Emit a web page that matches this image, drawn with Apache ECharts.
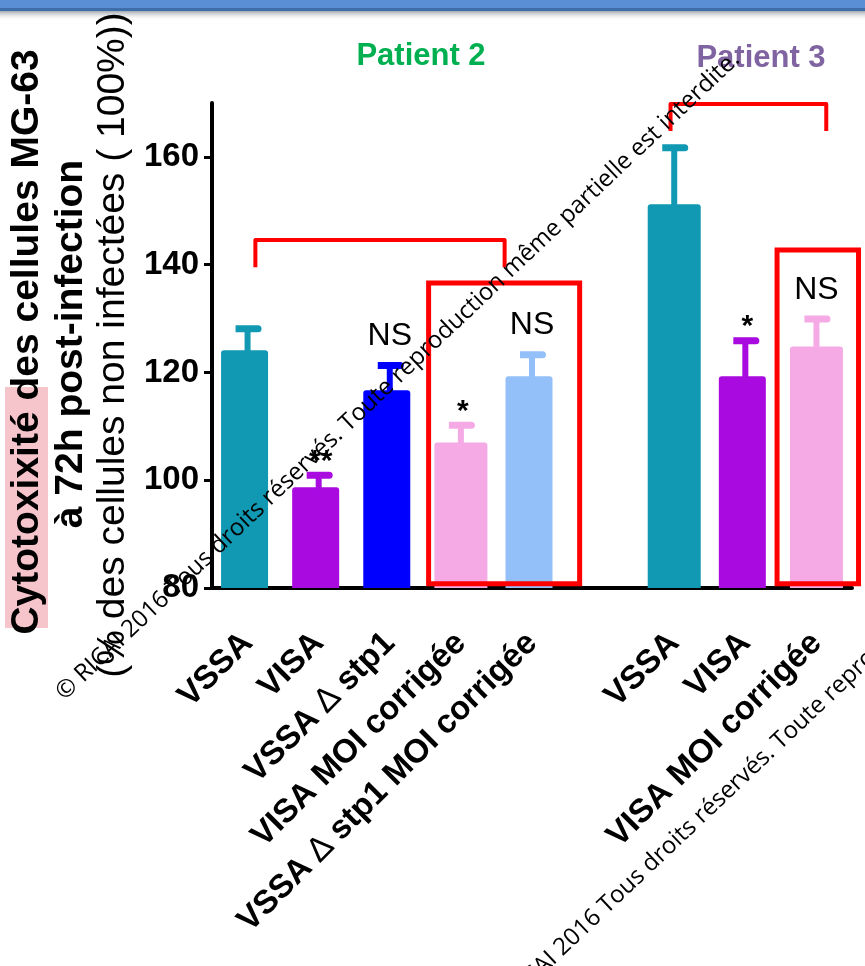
<!DOCTYPE html>
<html>
<head>
<meta charset="utf-8">
<title>Cytotoxicité MG-63</title>
<script src="https://cdn.jsdelivr.net/npm/echarts@6/dist/echarts.min.js"></script>
<style>
  html, body { margin: 0; padding: 0; background: #ffffff; }
  #chart { width: 865px; height: 966px; }
</style>
</head>
<body>
<div id="chart"></div>
<script>
// Strains tested, per patient (empty slot separates patient 2 from patient 3)
const categories = [
  'VSSA', 'VISA', 'VSSA Δ stp1', 'VISA MOI corrigée', 'VSSA Δ stp1 MOI corrigée',
  '',
  'VSSA', 'VISA', 'VISA MOI corrigée'
];
// Mean cytotoxicity (% of uninfected cells) and top of the error bar (mean + SD)
const meanValues  = [124.1, 98.7, 116.7, 107.0, 119.3, null, 151.2, 119.3, 124.8];
const upperValues = [128.1, 100.9, 121.3, 110.2, 123.3, null, 161.7, 125.9, 129.9];
// Significance versus the VSSA of the same patient
const sigLabels   = ['', '**', 'NS', '*', 'NS', '', '', '*', 'NS'];
// Value-axis tick labels
const yTickValues = [80, 100, 120, 140, 160];

// Styling
const barColors = ['#1199b4', '#a90ae0', '#0000ff', '#f5aae6', '#93c0f8', '#ffffff', '#1199b4', '#a90ae0', '#f5aae6'];
const wideBarIdx = [3, 6, 8];
const FONT = '"Liberation Sans", Arial, sans-serif';
const NARROW = '"Liberation Sans Narrow", "Liberation Sans", Arial, sans-serif';

// Red brackets and boxes grouping the compared strains (category index + band fraction, value)
const brackets = [
  { from: 0, fromShift: 0.11, to: 4, toShift: -0.385, top: 144.6, foot: 139.5 },
  { from: 6, fromShift: -0.052, to: 8, toShift: 0.138, top: 169.8, foot: 164.8 }
];
const boxes = [
  { from: 3, fromShift: -0.454, to: 4, toShift: 0.67, top: 136.6, bottom: 80.8 },
  { from: 8, fromShift: -0.554, to: 8, toShift: 0.592, top: 142.7, bottom: 80.8 }
];

const chart = echarts.init(document.getElementById('chart'), null, { renderer: 'canvas' });

function barData(wide) {
  return meanValues.map((v, i) => {
    if (v === null || wideBarIdx.includes(i) !== wide) return null;
    return { value: v, itemStyle: { color: barColors[i] } };
  });
}

function renderErrorBar(params, api) {
  const i = params.dataIndex;
  if (meanValues[i] === null) return null;
  const top = api.coord([i, upperValues[i]]);
  const base = api.coord([i, meanValues[i]]);
  const x = top[0];
  const color = barColors[i];
  const children = [
    { type: 'rect', shape: { x: x - 3, y: top[1], width: 6, height: base[1] - top[1] + 1 }, style: { fill: color } },
    { type: 'rect', shape: { x: x - 12, y: top[1] - 3.5, width: 26, height: 7, r: [0, 3.5, 3.5, 0] }, style: { fill: color } }
  ];
  const lab = sigLabels[i];
  if (lab) {
    const star = lab.indexOf('*') >= 0;
    children.push({
      type: 'text',
      style: {
        text: lab,
        x: x + (star ? 2 : 0),
        y: top[1] - (star ? 14 : 29),
        align: 'center',
        verticalAlign: 'middle',
        font: star ? ('bold 30px ' + FONT) : ('32px ' + NARROW),
        fill: '#000'
      }
    });
  }
  return { type: 'group', children };
}

function renderAnnotations(params, api) {
  const band = api.size([1, 0])[0];
  const out = [];
  brackets.forEach(b => {
    const a = api.coord([b.from, b.top]);
    const c = api.coord([b.to, b.top]);
    const foot = api.coord([b.from, b.foot])[1];
    const x0 = a[0] + b.fromShift * band, x1 = c[0] + b.toShift * band;
    out.push({
      type: 'polyline',
      shape: { points: [[x0, foot], [x0, a[1]], [x1, a[1]], [x1, foot]] },
      style: { stroke: '#ff0000', lineWidth: 4, fill: null, lineJoin: 'round' }
    });
  });
  boxes.forEach(b => {
    const a = api.coord([b.from, b.top]);
    const c = api.coord([b.to, b.bottom]);
    const x0 = a[0] + b.fromShift * band, x1 = c[0] + b.toShift * band;
    out.push({
      type: 'rect',
      shape: { x: x0, y: a[1], width: x1 - x0, height: c[1] - a[1] },
      style: { stroke: '#ff0000', lineWidth: 5, fill: null }
    });
  });
  return { type: 'group', children: out };
}

const watermark = '© RICAI 2016 Tous droits réservés. Toute reproduction même partielle est interdite.';

const option = {
  animation: false,
  backgroundColor: '#ffffff',
  grid: { left: 212, right: 13, top: 103, bottom: 378, outerBoundsMode: 'none' },
  xAxis: {
    type: 'category',
    data: categories,
    axisLine: { lineStyle: { color: '#000', width: 4 } },
    axisTick: { alignWithLabel: true, length: 10, lineStyle: { color: '#000', width: 3 } },
    axisLabel: {
      interval: 0,
      rotate: 45,
      margin: 50,
      color: '#000',
      fontFamily: FONT,
      fontWeight: 'bold',
      fontSize: 33,
      formatter: v => v.replace('Δ', '{d|∆}'),
      rich: { d: { fontFamily: FONT, fontWeight: 'normal', fontSize: 34, color: '#000' } }
    },
    splitLine: { show: false }
  },
  yAxis: {
    type: 'value',
    min: 80,
    max: 170,
    interval: 20,
    axisLine: { show: true, onZero: false, lineStyle: { color: '#000', width: 4 } },
    axisTick: { show: true, length: 8, customValues: yTickValues, lineStyle: { color: '#000', width: 3 } },
    axisLabel: {
      customValues: yTickValues,
      margin: 13,
      color: '#000',
      fontFamily: FONT,
      fontWeight: 'bold',
      fontSize: 33
    },
    splitLine: { show: false }
  },
  series: [
    {
      type: 'bar', name: 'narrow', data: barData(false), barWidth: 47, barGap: '-100%',
      itemStyle: { borderRadius: [3, 3, 0, 0] }, z: 2
    },
    {
      type: 'bar', name: 'wide', data: barData(true), barWidth: 53, barGap: '-100%',
      itemStyle: { borderRadius: [3, 3, 0, 0] }, z: 2
    },
    {
      type: 'custom', name: 'errors', renderItem: renderErrorBar, clip: false, z: 3,
      data: meanValues.map((v, i) => [i, upperValues[i] === null ? 80 : upperValues[i]])
    },
    {
      type: 'custom', name: 'groups', renderItem: renderAnnotations, clip: false, z: 4,
      data: [[0, 80]]
    }
  ],
  graphic: [
    // slide header band
    { type: 'rect', z: 1, shape: { x: 0, y: 0, width: 865, height: 8 }, style: { fill: '#5a8fd6' } },
    { type: 'rect', z: 1, shape: { x: 0, y: 8, width: 865, height: 3 }, style: { fill: '#3d6ea8' } },
    {
      type: 'rect', z: 1, shape: { x: 0, y: 11, width: 865, height: 10 },
      style: { fill: new echarts.graphic.LinearGradient(0, 0, 0, 1, [
        { offset: 0, color: 'rgba(90,100,115,0.55)' }, { offset: 1, color: 'rgba(255,255,255,0)' }]) }
    },
    // highlighted word in the axis title
    { type: 'rect', z: 1, shape: { x: 5, y: 387, width: 43, height: 241 }, style: { fill: '#f6c5cb' } },
    // value-axis title, three lines
    {
      type: 'text', z: 5, x: 27, y: 342, rotation: Math.PI / 2,
      style: { text: 'Cytotoxixité des cellules MG-63', font: 'bold 39px ' + FONT, fill: '#000', align: 'center', verticalAlign: 'middle' }
    },
    {
      type: 'text', z: 5, x: 71, y: 344, rotation: Math.PI / 2,
      style: { text: 'à 72h post-infection', font: 'bold 39px ' + FONT, fill: '#000', align: 'center', verticalAlign: 'middle' }
    },
    {
      type: 'text', z: 5, x: 113, y: 345, rotation: Math.PI / 2,
      style: { text: '(% des cellules non infectées ( 100%))', font: '39px ' + FONT, fill: '#000', align: 'center', verticalAlign: 'middle' }
    },
    // group headers
    {
      type: 'text', z: 5, x: 421, y: 56,
      style: { text: 'Patient 2', font: 'bold 31px ' + FONT, fill: '#00b050', align: 'center', verticalAlign: 'middle' }
    },
    {
      type: 'text', z: 5, x: 761, y: 58,
      style: { text: 'Patient 3', font: 'bold 31px ' + FONT, fill: '#8064a2', align: 'center', verticalAlign: 'middle' }
    },
    // copyright overlay
    {
      type: 'text', z: 100, x: 398, y: 376, rotation: 0.758,
      style: { text: watermark, font: '24px "Open Sans", sans-serif', fill: '#000', align: 'center', verticalAlign: 'middle' }
    },
    {
      type: 'text', z: 100, x: 830, y: 694, rotation: 0.758,
      style: { text: watermark, font: '24px "Open Sans", sans-serif', fill: '#000', align: 'center', verticalAlign: 'middle' }
    }
  ]
};

chart.setOption(option);
</script>
</body>
</html>
